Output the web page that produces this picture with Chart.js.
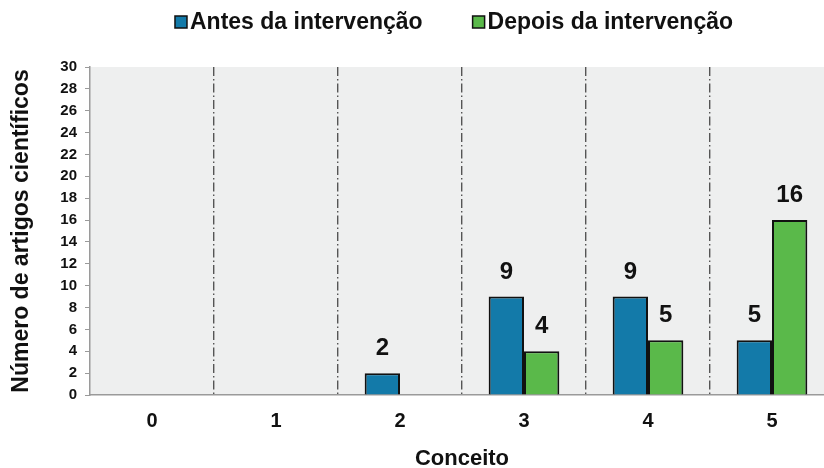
<!DOCTYPE html>
<html>
<head>
<meta charset="utf-8">
<script src="https://cdn.jsdelivr.net/npm/chart.js@4"></script>
<style>
  html, body { margin: 0; padding: 0; background: #fff; overflow: hidden; }
  #wrap { width: 834px; height: 468px; position: relative; }
</style>
</head>
<body>
<div id="wrap"><canvas id="c"></canvas></div>
<script>
const categories = ['0', '1', '2', '3', '4', '5'];
const antes = [0, 0, 2, 9, 9, 5];
const depois = [0, 0, 0, 4, 5, 16];
const seriesNames = ['Antes da intervenção', 'Depois da intervenção'];
const seriesColors = ['#137aa9', '#5ab94a'];

const FONT = "'Liberation Sans', Arial, sans-serif";

// light grey plot background
const plotBg = {
  id: 'plotBg',
  beforeDraw(chart) {
    const { ctx, chartArea: a } = chart;
    ctx.save();
    ctx.fillStyle = '#eeefef';
    ctx.fillRect(a.left, a.top, a.right - a.left, a.bottom - a.top);
    ctx.restore();
  }
};

// value labels above non-zero bars
const valueLabels = {
  id: 'valueLabels',
  afterDatasetsDraw(chart) {
    const { ctx } = chart;
    ctx.save();
    ctx.font = 'bold 24px ' + FONT;
    ctx.fillStyle = '#111';
    ctx.textAlign = 'center';
    ctx.textBaseline = 'alphabetic';
    chart.data.datasets.forEach((ds, i) => {
      chart.getDatasetMeta(i).data.forEach((bar, j) => {
        const v = ds.data[j];
        if (!v) return;
        ctx.fillText(String(v), bar.x, bar.y - 18);
      });
    });
    ctx.restore();
  }
};

// compact legend: small square swatch right next to its label
const compactLegend = {
  id: 'compactLegend',
  afterDraw(chart) {
    const { ctx, chartArea: a } = chart;
    const box = 12, gapBoxText = 3, gapItems = 50, cy = 22;
    ctx.save();
    ctx.font = 'bold 23px ' + FONT;
    const items = chart.data.datasets.map(ds => ({
      label: ds.label, color: ds.backgroundColor, w: ctx.measureText(ds.label).width
    }));
    const total = items.reduce((s, it) => s + box + gapBoxText + it.w, 0) + gapItems * (items.length - 1);
    let x = (a.left + a.right) / 2 - 8 - total / 2;
    items.forEach(it => {
      ctx.fillStyle = it.color;
      ctx.fillRect(x, cy - box / 2, box, box);
      ctx.strokeStyle = '#111';
      ctx.lineWidth = 1.5;
      ctx.strokeRect(x, cy - box / 2, box, box);
      ctx.fillStyle = '#111';
      ctx.textAlign = 'left';
      ctx.textBaseline = 'middle';
      ctx.fillText(it.label, x + box + gapBoxText, cy + 1);
      x += box + gapBoxText + it.w + gapItems;
    });
    ctx.restore();
  }
};

new Chart(document.getElementById('c'), {
  type: 'bar',
  data: {
    labels: categories,
    datasets: [
      { label: seriesNames[0], data: antes, backgroundColor: seriesColors[0], borderColor: '#111', borderWidth: 2 },
      { label: seriesNames[1], data: depois, backgroundColor: seriesColors[1], borderColor: '#111', borderWidth: 2 }
    ]
  },
  options: {
    responsive: true,
    maintainAspectRatio: false,
    animation: false,
    layout: { padding: { left: 0, right: 0, top: 67, bottom: 0 } },
    datasets: { bar: { categoryPercentage: 0.57, barPercentage: 1.0 } },
    plugins: {
      tooltip: { enabled: false },
      legend: { display: false }
    },
    scales: {
      x: {
        offset: true,
        afterFit(scale) { scale.height = 73; },
        grid: {
          offset: true,
          drawTicks: false,
          lineWidth: 1.4,
          color: (c) => (c.index === 0 ? 'rgba(0,0,0,0)' : '#555')
        },
        border: { display: true, color: '#9a9a9a', width: 1.5, dash: [9, 3, 1.5, 3] },
        ticks: { font: { family: FONT, size: 20, weight: 'bold', lineHeight: 1 }, color: '#111', padding: 16 },
        title: { display: true, text: 'Conceito', font: { family: FONT, size: 22, weight: 'bold', lineHeight: '18px' }, color: '#111', padding: { top: 0, bottom: 0 } }
      },
      y: {
        min: 0,
        max: 30,
        afterFit(scale) { scale.width = 90; },
        ticks: { stepSize: 2, font: { family: FONT, size: 15, weight: 'bold' }, color: '#111', padding: 8 },
        grid: { drawOnChartArea: false, drawTicks: true, tickLength: 5, color: '#9a9a9a', lineWidth: 1 },
        border: { display: true, color: '#9a9a9a', width: 1.5 },
        title: { display: true, text: 'Número de artigos científicos', font: { family: FONT, size: 23, weight: 'bold', lineHeight: 1 }, color: '#111', padding: { top: 10, bottom: 0 } }
      }
    }
  },
  plugins: [plotBg, valueLabels, compactLegend]
});
</script>
</body>
</html>
